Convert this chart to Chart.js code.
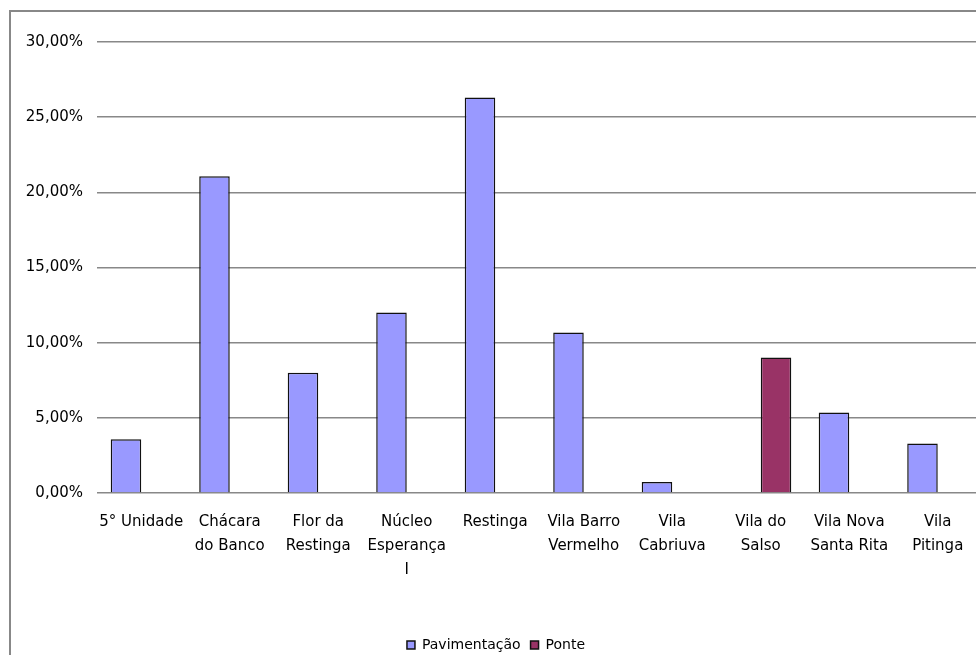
<!DOCTYPE html>
<html lang="pt">
<head>
  <meta charset="UTF-8" />
  <title>Pavimentação e Ponte</title>
  <script src="https://cdn.jsdelivr.net/npm/chart.js"></script>
  <style>
    html, body { margin: 0; padding: 0; background: #fff; overflow: hidden; }
    .frame {
      position: absolute; left: 9px; top: 10px;
      width: 1100px; height: 800px;
      border: 2px solid #888;
    }
    #chartBox { position: absolute; left: 10px; top: 10px; }
  </style>
</head>
<body>
  <div class="frame"></div>
  <div id="chartBox">
    <canvas id="barChart" width="990" height="672"></canvas>
  </div>

  <script>
    // Localidades (cada uma com uma ou duas linhas de rótulo)
    const localidades = [
      '5° Unidade',
      ['Chácara', 'do Banco'],
      ['Flor da', 'Restinga'],
      ['Núcleo', 'Esperança', 'I'],
      'Restinga',
      ['Vila Barro', 'Vermelho'],
      ['Vila', 'Cabriuva'],
      ['Vila do', 'Salso'],
      ['Vila Nova', 'Santa Rita'],
      ['Vila', 'Pitinga']
    ];

    // Percentuais por tipo de obra
    const pavimentacao = [3.58, 21.07, 8.00, 12.00, 26.31, 10.67, 0.73, null, 5.35, 3.29];
    const ponte        = [null, null, null, null, null, null, null, 9.02, null, null];

    const yMin = 0;
    const yMax = 30;
    const yStep = 5;

    const fonte = "'DejaVu Sans', sans-serif";

    const ctx = document.getElementById('barChart').getContext('2d');

    const barChart = new Chart(ctx, {
      type: 'bar',
      data: {
        labels: localidades,
        datasets: [
          {
            label: 'Pavimentação',
            data: pavimentacao,
            backgroundColor: '#9999ff',
            borderColor: '#111',
            borderWidth: 1.5
          },
          {
            label: 'Ponte',
            data: ponte,
            backgroundColor: '#993366',
            borderColor: '#111',
            borderWidth: 1.5
          }
        ]
      },
      options: {
        responsive: false,
        animation: false,
        categoryPercentage: 0.69,
        barPercentage: 1,
        layout: {
          padding: { top: 32, right: 18, bottom: 20, left: 0 }
        },
        plugins: {
          tooltip: { enabled: false },
          legend: {
            position: 'bottom',
            labels: {
              color: '#000',
              boxWidth: 8,
              boxHeight: 8,
              padding: 10,
              font: { family: fonte, size: 14 }
            }
          }
        },
        scales: {
          x: {
            grid: { display: false, drawTicks: false },
            border: { display: false },
            ticks: {
              color: '#000',
              padding: 17,
              maxRotation: 0,
              autoSkip: false,
              font: { family: fonte, size: 15, lineHeight: 1.6 }
            },
            afterFit: (scale) => { scale.height = 135; }
          },
          y: {
            min: yMin,
            max: yMax,
            grid: { color: '#888', lineWidth: 1.5, drawTicks: false },
            border: { display: false },
            ticks: {
              stepSize: yStep,
              color: '#000',
              padding: 14,
              font: { family: fonte, size: 15 },
              callback: (v) => v.toFixed(2).replace('.', ',') + '%'
            },
            afterFit: (scale) => { scale.width = 87; }
          }
        }
      }
    });
  </script>
</body>
</html>
